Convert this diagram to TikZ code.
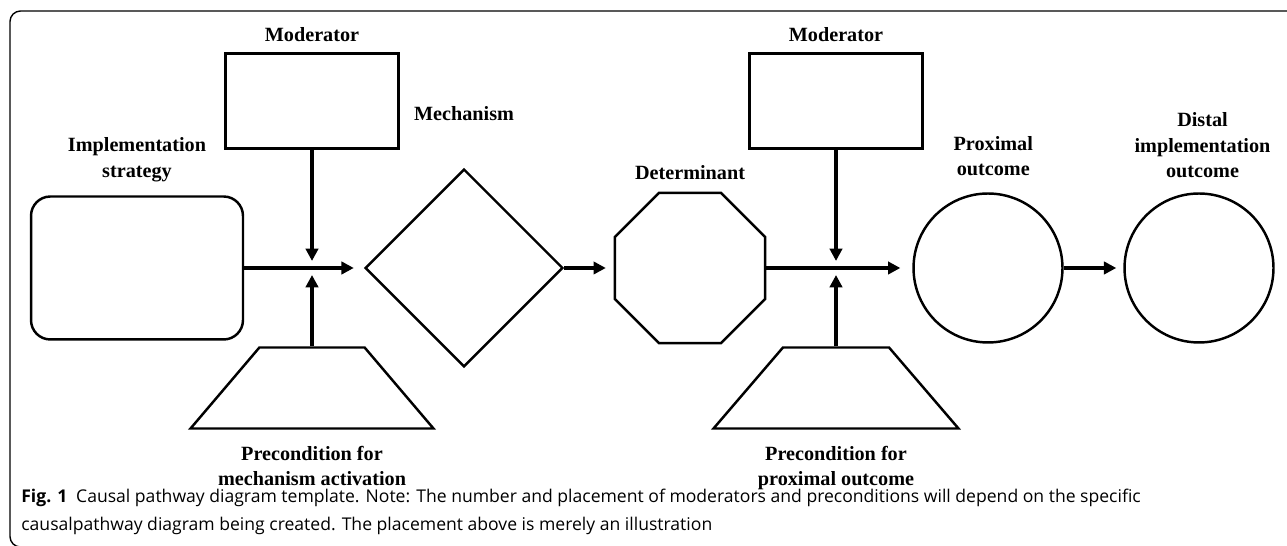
\documentclass[tikz,border=0pt]{standalone}
\usepackage{fontspec}
\setmainfont{Liberation Serif}
\newfontfamily\capfont{Open Sans}
\usetikzlibrary{shapes.geometric,arrows.meta,positioning}

\begin{document}
\begin{tikzpicture}[x=0.02cm,y=0.02cm,
  box/.style={draw,line width=1.4pt,inner sep=0pt},
  trap/.style={box,trapezium,trapezium left angle=56.8,trapezium right angle=56.8,
    trapezium stretches=true,inner sep=1pt,minimum height=1.62cm},
  title/.style={font=\bfseries\fontsize{11.5}{14.5}\selectfont,align=center,inner sep=0pt},
  link/.style={line width=2.1pt,-{Triangle[length=7pt,width=7pt]}}]
  \useasboundingbox (0,0) rectangle (1287,546);
  \draw[line width=0.8pt,rounded corners=6pt] (1287,535) -- (10,535) -- (10,-1) -- (40,-1);

  \node[box,rounded corners=11pt,minimum width=4.24cm,minimum height=2.86cm] (strat) at (137,278) {};
  \node[box,minimum width=3.46cm,minimum height=1.9cm] (mod1) at (312,445) {};
  \node[trap,minimum width=4.86cm] (pre1) at (312,158) {};
  \node[box,diamond,aspect=1,minimum size=3.96cm] (mech) at (464,278) {};
  \node[box,regular polygon,regular polygon sides=8,minimum size=3.25cm] (det) at (690,278) {};
  \node[box,minimum width=3.46cm,minimum height=1.9cm] (mod2) at (836,445) {};
  \node[trap,minimum width=4.9cm] (pre2) at (836,158) {};
  \node[box,circle,minimum size=2.98cm] (prox) at (988,278) {};
  \node[box,circle,minimum size=2.98cm] (dist) at (1199,278) {};

  \node[title,above=5.7pt of mod1] {Moderator};
  \node[title,above=7.4pt of strat] {Implementation\\strategy};
  \node[title,above=26.5pt of mech] {Mechanism};
  \node[title,below=9pt of pre1] {Precondition for\\mechanism activation};
  \node[title,above=6.8pt of det] {Determinant};
  \node[title,above=5.7pt of mod2] {Moderator};
  \node[title,below=9pt of pre2] {Precondition for\\proximal outcome};
  \node[title,above=9pt of prox,xshift=3pt] {Proximal\\outcome};
  \node[title,above=8pt of dist,xshift=2pt] {Distal\\implementation\\outcome};

  \coordinate (j1) at (mod1.south |- strat.east);
  \coordinate (j2) at (mod2.south |- det.east);

  \draw[link,shorten >=5.7pt] (strat.east) -- (mech.west);
  \draw[link,shorten >=4pt] (mod1.south) -- (j1);
  \draw[link,shorten >=4pt] (pre1.north) -- (j1);
  \draw[link,shorten >=4.5pt] (mech.east) -- (det.west);
  \draw[link,shorten >=6.8pt] (det.east) -- (prox.west);
  \draw[link,shorten >=4pt] (mod2.south) -- (j2);
  \draw[link,shorten >=4pt] (pre2.north) -- (j2);
  \draw[link,shorten >=4pt] (prox.east) -- (dist.west);

  \node[anchor=north west,inner sep=0pt,align=left,
        font=\capfont\fontsize{10}{16}\selectfont] (caption) at (21,57)
    {{\bfseries Fig. 1}\enspace Causal pathway diagram template. Note: The number and placement of moderators and preconditions will depend on the specific\\
     causalpathway diagram being created. The placement above is merely an illustration};
\end{tikzpicture}
\end{document}
